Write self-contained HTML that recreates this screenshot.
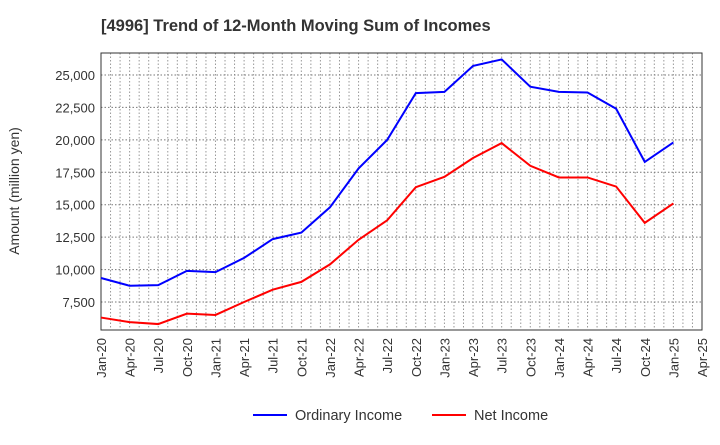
<!DOCTYPE html>
<html><head><meta charset="utf-8"><style>
body{margin:0;background:#fff;font-family:"Liberation Sans",sans-serif}
</style></head><body>
<svg id="c" width="720" height="440" xmlns="http://www.w3.org/2000/svg">
<text x="101" y="31" font-size="16.5" font-weight="bold" fill="#333">[4996]  Trend of 12-Month Moving Sum of Incomes</text>
<text transform="translate(19,191) rotate(-90)" text-anchor="middle" font-size="14" fill="#333">Amount (million yen)</text>
<g id="grid"></g><g id="axes"></g><g id="series"></g>
<g>
<line x1="253" y1="415" x2="287" y2="415" stroke="#0000ff" stroke-width="2"/>
<text x="295" y="420" font-size="14.5" fill="#333">Ordinary Income</text>
<line x1="432" y1="415" x2="466" y2="415" stroke="#ff0000" stroke-width="2"/>
<text x="474" y="420" font-size="14.5" fill="#333">Net Income</text>
</g>
</svg>
<script>
const xLabels=["Jan-20","Apr-20","Jul-20","Oct-20","Jan-21","Apr-21","Jul-21","Oct-21","Jan-22","Apr-22","Jul-22","Oct-22","Jan-23","Apr-23","Jul-23","Oct-23","Jan-24","Apr-24","Jul-24","Oct-24","Jan-25","Apr-25"];
const yTicks=[7500,10000,12500,15000,17500,20000,22500,25000];
const ordinary=[9350,8750,8800,9900,9800,10900,12350,12850,14800,17800,20000,23600,23700,25700,26200,24100,23700,23650,22400,18300,19800];
const netIncome=[6300,5950,5800,6600,6500,7500,8450,9050,10400,12300,13800,16350,17150,18600,19750,18000,17100,17100,16400,13600,15100];
const L=101,R=702,T=53,B=330;
const x=i=>L+(R-L)*i/21;
const y=v=>302-(v-7500)*(227/17500);
const NS="http://www.w3.org/2000/svg";
function mk(p,t,a){const e=document.createElementNS(NS,t);for(const k in a)e.setAttribute(k,a[k]);p.appendChild(e);return e;}
const g=document.getElementById('grid'),ax=document.getElementById('axes'),s=document.getElementById('series');
for(let m=1;m<63;m++){const xx=L+(R-L)*m/63;
const l=mk(g,'line',{x1:xx,x2:xx,y1:T,y2:B,stroke:'#999','stroke-dasharray':'1.5,2','stroke-width':1});

}
yTicks.forEach(v=>{const l=mk(g,'line',{x1:L,x2:R,y1:y(v),y2:y(v),stroke:'#777','stroke-dasharray':'1.5,2','stroke-width':1});


const t=mk(ax,'text',{x:L-6,y:y(v)+5,'text-anchor':'end','font-size':13,fill:'#333'});t.textContent=v.toLocaleString('en-US');

});
const fr=mk(ax,'rect',{x:L,y:T,width:R-L,height:B-T,fill:'none',stroke:'#333','stroke-width':1});


xLabels.forEach((lb,i)=>{const t=mk(ax,'text',{transform:`translate(${x(i)+5},${B+8}) rotate(-90)`,'text-anchor':'end','font-size':13,fill:'#333'});t.textContent=lb;

});
function line(d,c,n){const p=mk(s,'polyline',{points:d.map((v,i)=>x(i)+','+y(v)).join(' '),fill:'none',stroke:c,'stroke-width':2});

}
line(ordinary,'#0000ff','ordinary-income-line');
line(netIncome,'#ff0000','net-income-line');
</script>
</body></html>
